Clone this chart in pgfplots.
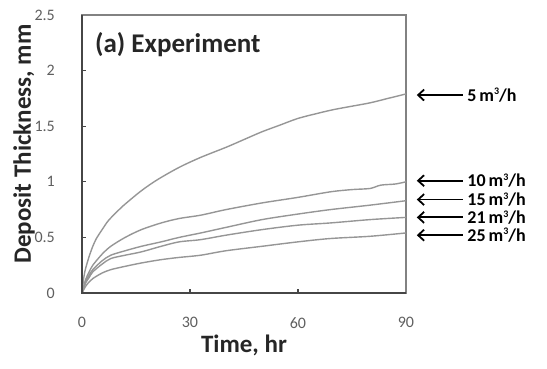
\documentclass[border=0pt]{standalone}
\usepackage{fontspec}
\setmainfont{Carlito}
\usepackage{pgfplots}
\pgfplotsset{compat=1.18}
\usetikzlibrary{arrows.meta}
\definecolor{curve}{RGB}{150,150,150}
\definecolor{ticklab}{RGB}{95,95,95}
\definecolor{axdark}{RGB}{70,70,70}
\definecolor{axlight}{RGB}{130,130,130}
\newcommand{\mcube}{m\raisebox{0.36em}{\fontsize{10}{10}\selectfont 3}}
\tikzset{flowarr/.style={black, line width=1.8pt, {Straight Barb[length=6pt, width=11pt]}-},
  flowlab/.style={anchor=west, inner sep=0pt, font=\fontsize{18}{20}\selectfont\bfseries},
  crv/.style={draw=curve, line width=1.4pt, mark=none, smooth}}
\begin{document}
\begin{tikzpicture}
\path[use as bounding box] (-82pt,-75pt) rectangle (465pt,293pt);
\begin{axis}[
  at={(0,0)}, anchor=south west,
  width=324pt, height=278pt, scale only axis,
  xmin=0, xmax=90, ymin=0, ymax=2.5,
  xtick={0,30,60,90}, ytick={0,0.5,1,1.5,2,2.5},
  yticklabels={0,0.5,1,1.5,2,2.5},
  tick pos=left, tick align=inside, major tick length=4pt,
  tick style={axdark, line width=1.2pt},
  axis line style={axlight, line width=1.3pt},
  /pgf/number format/assume math mode=true,
  ticklabel style={font=\fontsize{16}{18}\selectfont, text=ticklab, inner sep=0pt},
  xticklabel style={anchor=north, yshift=-24pt},
  yticklabel style={anchor=east, xshift=-27pt},
  xlabel={Time, hr}, ylabel={Deposit Thickness, mm},
  label style={font=\fontsize{25}{28}\selectfont\bfseries, text=black!85},
  xlabel style={at={(axis description cs:0.5,-0.187)}, anchor=center},
  ylabel style={at={(axis description cs:-0.179,0.536)}, anchor=center},
  clip=false,
]
% 5 m3/h
\addplot[crv] coordinates {(0,0) (0.5,0.14) (1,0.22) (2,0.33) (3,0.42) (4,0.49) (5.6,0.57) (7.3,0.65) (10,0.74) (12,0.80) (16.5,0.92) (21,1.02) (27,1.13) (33,1.22) (40,1.31) (45,1.38) (50,1.45) (55,1.51) (60,1.57) (66,1.62) (70,1.65) (75,1.68) (80,1.71) (85,1.75) (90,1.79)};
% 10 m3/h
\addplot[crv] coordinates {(0,0) (1,0.12) (2,0.19) (3,0.25) (5.6,0.35) (8,0.42) (12,0.50) (16.5,0.57) (22,0.63) (27,0.67) (33,0.70) (40,0.75) (50,0.81) (60,0.86) (69,0.91) (75,0.93) (80,0.94) (83,0.97) (87,0.98) (90,1.00)};
% 15 m3/h
\addplot[crv] coordinates {(0,0) (1,0.10) (2,0.16) (3,0.21) (5.6,0.29) (8,0.34) (12,0.38) (16.5,0.42) (22,0.46) (27,0.50) (33,0.54) (40,0.59) (50,0.66) (60,0.71) (69,0.75) (80,0.79) (90,0.83)};
% 21 m3/h
\addplot[crv] coordinates {(0,0) (1,0.09) (2,0.14) (3,0.19) (5.6,0.26) (8,0.31) (12,0.34) (16.5,0.37) (22,0.42) (27,0.46) (33,0.48) (40,0.52) (50,0.57) (60,0.61) (69,0.63) (80,0.66) (90,0.68)};
% 25 m3/h
\addplot[crv] coordinates {(0,0) (1,0.06) (2,0.10) (3,0.13) (5.6,0.18) (8,0.21) (12,0.24) (16.5,0.27) (22,0.30) (27,0.32) (33,0.34) (40,0.38) (50,0.42) (60,0.46) (69,0.49) (80,0.51) (90,0.54)};
\draw[axdark, line width=2.2pt] (rel axis cs:0,1) -- (rel axis cs:0,0) -- (rel axis cs:1,0);
\node[anchor=west, inner sep=0pt, font=\fontsize{27}{30}\selectfont\bfseries, text=black!85] at (axis cs:3.6,2.23) {(a) Experiment};
\draw[flowarr] (axis cs:93,1.78) -- (axis cs:105.8,1.78);
\node[flowlab] at (axis cs:107,1.78) {5\,\mcube/h};
\draw[flowarr] (axis cs:93,1.01) -- (axis cs:105.8,1.01);
\node[flowlab] at (axis cs:107,1.01) {10\,\mcube/h};
\draw[flowarr] (axis cs:93,0.84) -- (axis cs:105.8,0.84);
\node[flowlab] at (axis cs:107,0.84) {15\,\mcube/h};
\draw[flowarr] (axis cs:93,0.68) -- (axis cs:105.8,0.68);
\node[flowlab] at (axis cs:107,0.68) {21\,\mcube/h};
\draw[flowarr] (axis cs:93,0.52) -- (axis cs:105.8,0.52);
\node[flowlab] at (axis cs:107,0.52) {25\,\mcube/h};
\end{axis}
\end{tikzpicture}
\end{document}
